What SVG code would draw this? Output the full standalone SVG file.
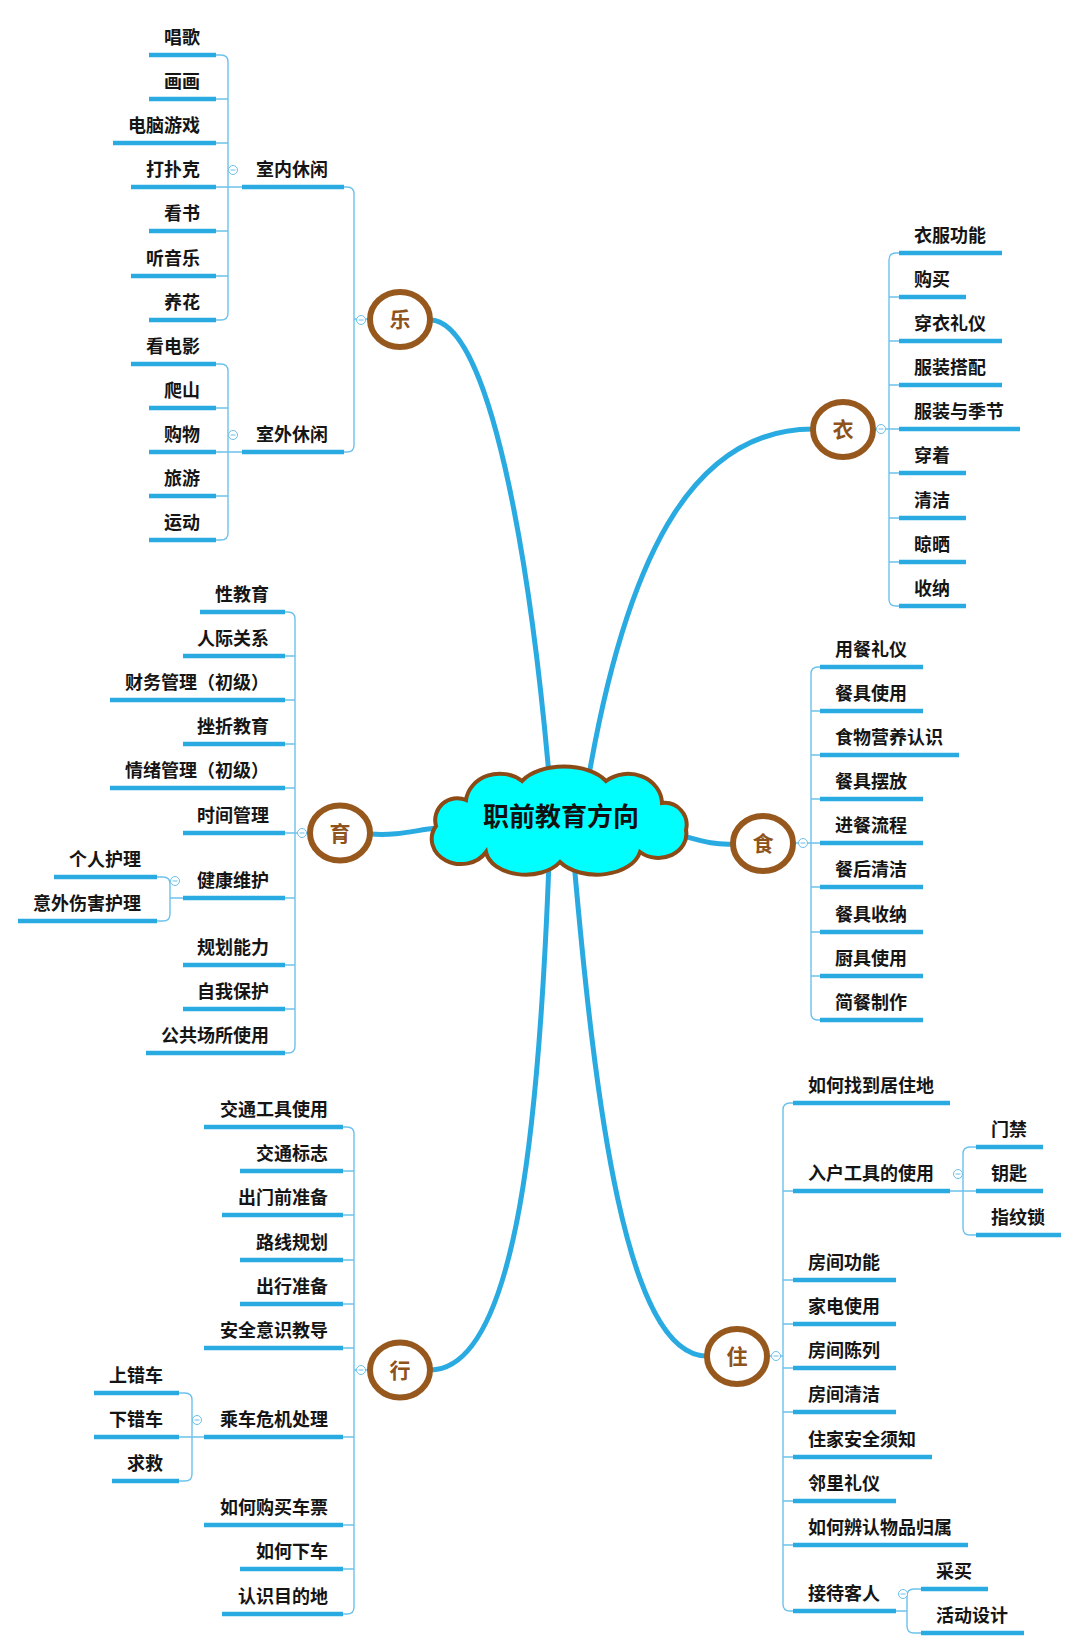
<svg xmlns="http://www.w3.org/2000/svg" xmlns:xlink="http://www.w3.org/1999/xlink" width="1080" height="1650" viewBox="0 0 1080 1650">
<style>
.ul{stroke:#29ABE2;stroke-width:4.5;fill:none}
.t{font-family:"Noto Sans CJK SC","Noto Sans",sans-serif;font-weight:700;font-size:18px;fill:#151515}
.e{text-anchor:end}
.br{fill:none;stroke:#6CC2EC;stroke-width:1.4}
.main{fill:none;stroke:#29ABE2;stroke-width:5;stroke-linecap:round}
.cat ellipse{fill:#fff;stroke:#97581D;stroke-width:6}
.ct{font-family:"Noto Sans CJK SC","Noto Sans",sans-serif;font-weight:700;font-size:21px;fill:#8E521B;text-anchor:middle}
.tg circle{fill:#fff;stroke:#6BBFE8;stroke-width:1}
.tg path{stroke:#6BBFE8;stroke-width:1}
</style>
<defs>
<g id="tog" class="tg"><circle cx="0" cy="0" r="4.5"/><path d="M-2.5 0H2.5"/></g>
</defs>
<rect width="1080" height="1650" fill="#fff"/>

<g id="connectors">
<path class="main" d="M430 320C490 320 530 560 549 775"/>
<path class="main" d="M589 775C630 540 700 429 813 429"/>
<path class="main" d="M370 834C400 836 415 830 437 828"/>
<path class="main" d="M683 836C705 842 715 845 735 844"/>
<path class="main" d="M549 862C540 1100 520 1370 430 1370"/>
<path class="main" d="M574 862C595 1100 625 1356 707 1356"/>
<path class="br" d="M216 55H221Q228 55 228 62V313Q228 320 221 320H216M216 99H228M216 143H228M216 187H242M216 231H228M216 276H228"/>
<path class="br" d="M216 364H221Q228 364 228 371V533Q228 540 221 540H216M216 408H228M216 452H242M216 496H228"/>
<path class="br" d="M344 187H347Q354 187 354 194V445Q354 452 347 452H344M354 319H370"/>
<path class="br" d="M285 612H288Q295 612 295 619V1046Q295 1053 288 1053H285M285 656H295M285 700H295M285 744H295M285 788H295M285 833H310M285 898H295M285 965H295M285 1009H295"/>
<path class="br" d="M157 877H163Q170 877 170 884V914Q170 921 163 921H157M170 898H183"/>
<path class="br" d="M899 253H896Q889 253 889 260V599Q889 606 896 606H899M889 297H899M889 341H899M889 385H899M873 429H899M889 473H899M889 518H899M889 562H899"/>
<path class="br" d="M820 667H818Q811 667 811 674V1013Q811 1020 818 1020H820M811 711H820M811 755H820M811 799H820M793 843H820M811 887H820M811 932H820M811 976H820"/>
<path class="br" d="M343 1127H347Q354 1127 354 1134V1607Q354 1614 347 1614H343M343 1171H354M343 1215H354M343 1260H354M343 1304H354M343 1348H354M343 1437H354M343 1525H354M343 1569H354M354 1370H370"/>
<path class="br" d="M179 1393H185Q192 1393 192 1400V1474Q192 1481 185 1481H179M179 1437H204"/>
<path class="br" d="M793 1103H790Q783 1103 783 1110V1604Q783 1611 790 1611H793M783 1191H793M783 1280H793M783 1324H793M783 1368H793M783 1412H793M783 1457H793M783 1501H793M783 1545H793M767 1356H783"/>
<path class="br" d="M976 1147H970Q963 1147 963 1154V1228Q963 1235 970 1235H976M950 1191H976"/>
<path class="br" d="M921 1589H914Q907 1589 907 1596V1626Q907 1633 914 1633H921M896 1611H907"/>
<use xlink:href="#tog" x="233" y="170"/>
<use xlink:href="#tog" x="233" y="435"/>
<use xlink:href="#tog" x="361" y="320"/>
<use xlink:href="#tog" x="302" y="833"/>
<use xlink:href="#tog" x="175" y="881"/>
<use xlink:href="#tog" x="881" y="429"/>
<use xlink:href="#tog" x="803" y="843"/>
<use xlink:href="#tog" x="361" y="1370"/>
<use xlink:href="#tog" x="197" y="1420"/>
<use xlink:href="#tog" x="776" y="1356"/>
<use xlink:href="#tog" x="958" y="1174"/>
<use xlink:href="#tog" x="903" y="1594"/>
</g>

<g id="root">
<path d="M436 826A22 22 0 0 1 466 800A34 30 0 0 1 522 781A48 28 0 0 1 606 781A34 30 0 0 1 662 803A22 22 0 0 1 686 830A28 24 0 0 1 640 852A44 28 0 0 1 560 862A40 26 0 0 1 486 852A28 24 0 0 1 436 826Z" fill="#00FFFF" stroke="#8B4A16" stroke-width="4"/>
<text x="561" y="826" font-family="'Noto Sans CJK SC',sans-serif" font-weight="700" font-size="26" fill="#111" text-anchor="middle">职前教育方向</text>
</g>

<g id="le" class="cat"><ellipse cx="400" cy="319.5" rx="30" ry="27.5"/><text class="ct" x="400" y="327">乐</text></g>
<g id="yi" class="cat"><ellipse cx="843" cy="429.5" rx="30" ry="27.5"/><text class="ct" x="843" y="437">衣</text></g>
<g id="yu" class="cat"><ellipse cx="340" cy="833" rx="30" ry="27.5"/><text class="ct" x="340" y="840.5">育</text></g>
<g id="shi" class="cat"><ellipse cx="763" cy="843.5" rx="30" ry="27.5"/><text class="ct" x="763" y="851">食</text></g>
<g id="xing" class="cat"><ellipse cx="400" cy="1370" rx="30" ry="27.5"/><text class="ct" x="400" y="1377.5">行</text></g>
<g id="zhu" class="cat"><ellipse cx="737" cy="1356.5" rx="30" ry="27.5"/><text class="ct" x="737" y="1364">住</text></g>

<!-- 乐 -->
<g id="le-shinei"><path class="ul" d="M242 187H344"/><text class="t e" x="328" y="176">室内休闲</text></g>
<g id="le-shiwai"><path class="ul" d="M242 452H344"/><text class="t e" x="328" y="441">室外休闲</text></g>
<g id="le-1"><path class="ul" d="M149 55H216"/><text class="t e" x="200" y="44">唱歌</text></g>
<g id="le-2"><path class="ul" d="M149 99H216"/><text class="t e" x="200" y="88">画画</text></g>
<g id="le-3"><path class="ul" d="M113 143H216"/><text class="t e" x="200" y="132">电脑游戏</text></g>
<g id="le-4"><path class="ul" d="M131 187H216"/><text class="t e" x="200" y="176">打扑克</text></g>
<g id="le-5"><path class="ul" d="M149 231H216"/><text class="t e" x="200" y="220">看书</text></g>
<g id="le-6"><path class="ul" d="M131 276H216"/><text class="t e" x="200" y="265">听音乐</text></g>
<g id="le-7"><path class="ul" d="M149 320H216"/><text class="t e" x="200" y="309">养花</text></g>
<g id="le-8"><path class="ul" d="M131 364H216"/><text class="t e" x="200" y="353">看电影</text></g>
<g id="le-9"><path class="ul" d="M149 408H216"/><text class="t e" x="200" y="397">爬山</text></g>
<g id="le-10"><path class="ul" d="M149 452H216"/><text class="t e" x="200" y="441">购物</text></g>
<g id="le-11"><path class="ul" d="M149 496H216"/><text class="t e" x="200" y="485">旅游</text></g>
<g id="le-12"><path class="ul" d="M149 540H216"/><text class="t e" x="200" y="529">运动</text></g>

<!-- 育 -->
<g id="yu-1"><path class="ul" d="M200 612H285"/><text class="t e" x="269" y="601">性教育</text></g>
<g id="yu-2"><path class="ul" d="M183 656H285"/><text class="t e" x="269" y="645">人际关系</text></g>
<g id="yu-3"><path class="ul" d="M110 700H285"/><text class="t e" x="269" y="689">财务管理（初级）</text></g>
<g id="yu-4"><path class="ul" d="M183 744H285"/><text class="t e" x="269" y="733">挫折教育</text></g>
<g id="yu-5"><path class="ul" d="M110 788H285"/><text class="t e" x="269" y="777">情绪管理（初级）</text></g>
<g id="yu-6"><path class="ul" d="M183 833H285"/><text class="t e" x="269" y="822">时间管理</text></g>
<g id="yu-7"><path class="ul" d="M183 898H285"/><text class="t e" x="269" y="887">健康维护</text></g>
<g id="yu-7a"><path class="ul" d="M54 877H157"/><text class="t e" x="141" y="866">个人护理</text></g>
<g id="yu-7b"><path class="ul" d="M18 921H157"/><text class="t e" x="141" y="910">意外伤害护理</text></g>
<g id="yu-8"><path class="ul" d="M183 965H285"/><text class="t e" x="269" y="954">规划能力</text></g>
<g id="yu-9"><path class="ul" d="M183 1009H285"/><text class="t e" x="269" y="998">自我保护</text></g>
<g id="yu-10"><path class="ul" d="M146 1053H285"/><text class="t e" x="269" y="1042">公共场所使用</text></g>

<!-- 衣 -->
<g id="yi-1"><path class="ul" d="M899 253H1002"/><text class="t" x="914" y="242">衣服功能</text></g>
<g id="yi-2"><path class="ul" d="M899 297H966"/><text class="t" x="914" y="286">购买</text></g>
<g id="yi-3"><path class="ul" d="M899 341H1002"/><text class="t" x="914" y="330">穿衣礼仪</text></g>
<g id="yi-4"><path class="ul" d="M899 385H1002"/><text class="t" x="914" y="374">服装搭配</text></g>
<g id="yi-5"><path class="ul" d="M899 429H1020"/><text class="t" x="914" y="418">服装与季节</text></g>
<g id="yi-6"><path class="ul" d="M899 473H966"/><text class="t" x="914" y="462">穿着</text></g>
<g id="yi-7"><path class="ul" d="M899 518H966"/><text class="t" x="914" y="507">清洁</text></g>
<g id="yi-8"><path class="ul" d="M899 562H966"/><text class="t" x="914" y="551">晾晒</text></g>
<g id="yi-9"><path class="ul" d="M899 606H966"/><text class="t" x="914" y="595">收纳</text></g>

<!-- 食 -->
<g id="shi-1"><path class="ul" d="M820 667H923"/><text class="t" x="835" y="656">用餐礼仪</text></g>
<g id="shi-2"><path class="ul" d="M820 711H923"/><text class="t" x="835" y="700">餐具使用</text></g>
<g id="shi-3"><path class="ul" d="M820 755H959"/><text class="t" x="835" y="744">食物营养认识</text></g>
<g id="shi-4"><path class="ul" d="M820 799H923"/><text class="t" x="835" y="788">餐具摆放</text></g>
<g id="shi-5"><path class="ul" d="M820 843H923"/><text class="t" x="835" y="832">进餐流程</text></g>
<g id="shi-6"><path class="ul" d="M820 887H923"/><text class="t" x="835" y="876">餐后清洁</text></g>
<g id="shi-7"><path class="ul" d="M820 932H923"/><text class="t" x="835" y="921">餐具收纳</text></g>
<g id="shi-8"><path class="ul" d="M820 976H923"/><text class="t" x="835" y="965">厨具使用</text></g>
<g id="shi-9"><path class="ul" d="M820 1020H923"/><text class="t" x="835" y="1009">简餐制作</text></g>

<!-- 行 -->
<g id="xing-1"><path class="ul" d="M204 1127H343"/><text class="t e" x="328" y="1116">交通工具使用</text></g>
<g id="xing-2"><path class="ul" d="M240 1171H343"/><text class="t e" x="328" y="1160">交通标志</text></g>
<g id="xing-3"><path class="ul" d="M222 1215H343"/><text class="t e" x="328" y="1204">出门前准备</text></g>
<g id="xing-4"><path class="ul" d="M240 1260H343"/><text class="t e" x="328" y="1249">路线规划</text></g>
<g id="xing-5"><path class="ul" d="M240 1304H343"/><text class="t e" x="328" y="1293">出行准备</text></g>
<g id="xing-6"><path class="ul" d="M204 1348H343"/><text class="t e" x="328" y="1337">安全意识教导</text></g>
<g id="xing-7"><path class="ul" d="M204 1437H343"/><text class="t e" x="328" y="1426">乘车危机处理</text></g>
<g id="xing-7a"><path class="ul" d="M94 1393H179"/><text class="t e" x="163" y="1382">上错车</text></g>
<g id="xing-7b"><path class="ul" d="M94 1437H179"/><text class="t e" x="163" y="1426">下错车</text></g>
<g id="xing-7c"><path class="ul" d="M112 1481H179"/><text class="t e" x="163" y="1470">求救</text></g>
<g id="xing-8"><path class="ul" d="M204 1525H343"/><text class="t e" x="328" y="1514">如何购买车票</text></g>
<g id="xing-9"><path class="ul" d="M240 1569H343"/><text class="t e" x="328" y="1558">如何下车</text></g>
<g id="xing-10"><path class="ul" d="M222 1614H343"/><text class="t e" x="328" y="1603">认识目的地</text></g>

<!-- 住 -->
<g id="zhu-1"><path class="ul" d="M793 1103H950"/><text class="t" x="808" y="1092">如何找到居住地</text></g>
<g id="zhu-2"><path class="ul" d="M793 1191H950"/><text class="t" x="808" y="1180">入户工具的使用</text></g>
<g id="zhu-2a"><path class="ul" d="M976 1147H1043"/><text class="t" x="991" y="1136">门禁</text></g>
<g id="zhu-2b"><path class="ul" d="M976 1191H1043"/><text class="t" x="991" y="1180">钥匙</text></g>
<g id="zhu-2c"><path class="ul" d="M976 1235H1061"/><text class="t" x="991" y="1224">指纹锁</text></g>
<g id="zhu-3"><path class="ul" d="M793 1280H896"/><text class="t" x="808" y="1269">房间功能</text></g>
<g id="zhu-4"><path class="ul" d="M793 1324H896"/><text class="t" x="808" y="1313">家电使用</text></g>
<g id="zhu-5"><path class="ul" d="M793 1368H896"/><text class="t" x="808" y="1357">房间陈列</text></g>
<g id="zhu-6"><path class="ul" d="M793 1412H896"/><text class="t" x="808" y="1401">房间清洁</text></g>
<g id="zhu-7"><path class="ul" d="M793 1457H932"/><text class="t" x="808" y="1446">住家安全须知</text></g>
<g id="zhu-8"><path class="ul" d="M793 1501H896"/><text class="t" x="808" y="1490">邻里礼仪</text></g>
<g id="zhu-9"><path class="ul" d="M793 1545H968"/><text class="t" x="808" y="1534">如何辨认物品归属</text></g>
<g id="zhu-10"><path class="ul" d="M793 1611H896"/><text class="t" x="808" y="1600">接待客人</text></g>
<g id="zhu-10a"><path class="ul" d="M921 1589H988"/><text class="t" x="936" y="1578">采买</text></g>
<g id="zhu-10b"><path class="ul" d="M921 1633H1024"/><text class="t" x="936" y="1622">活动设计</text></g>
</svg>
